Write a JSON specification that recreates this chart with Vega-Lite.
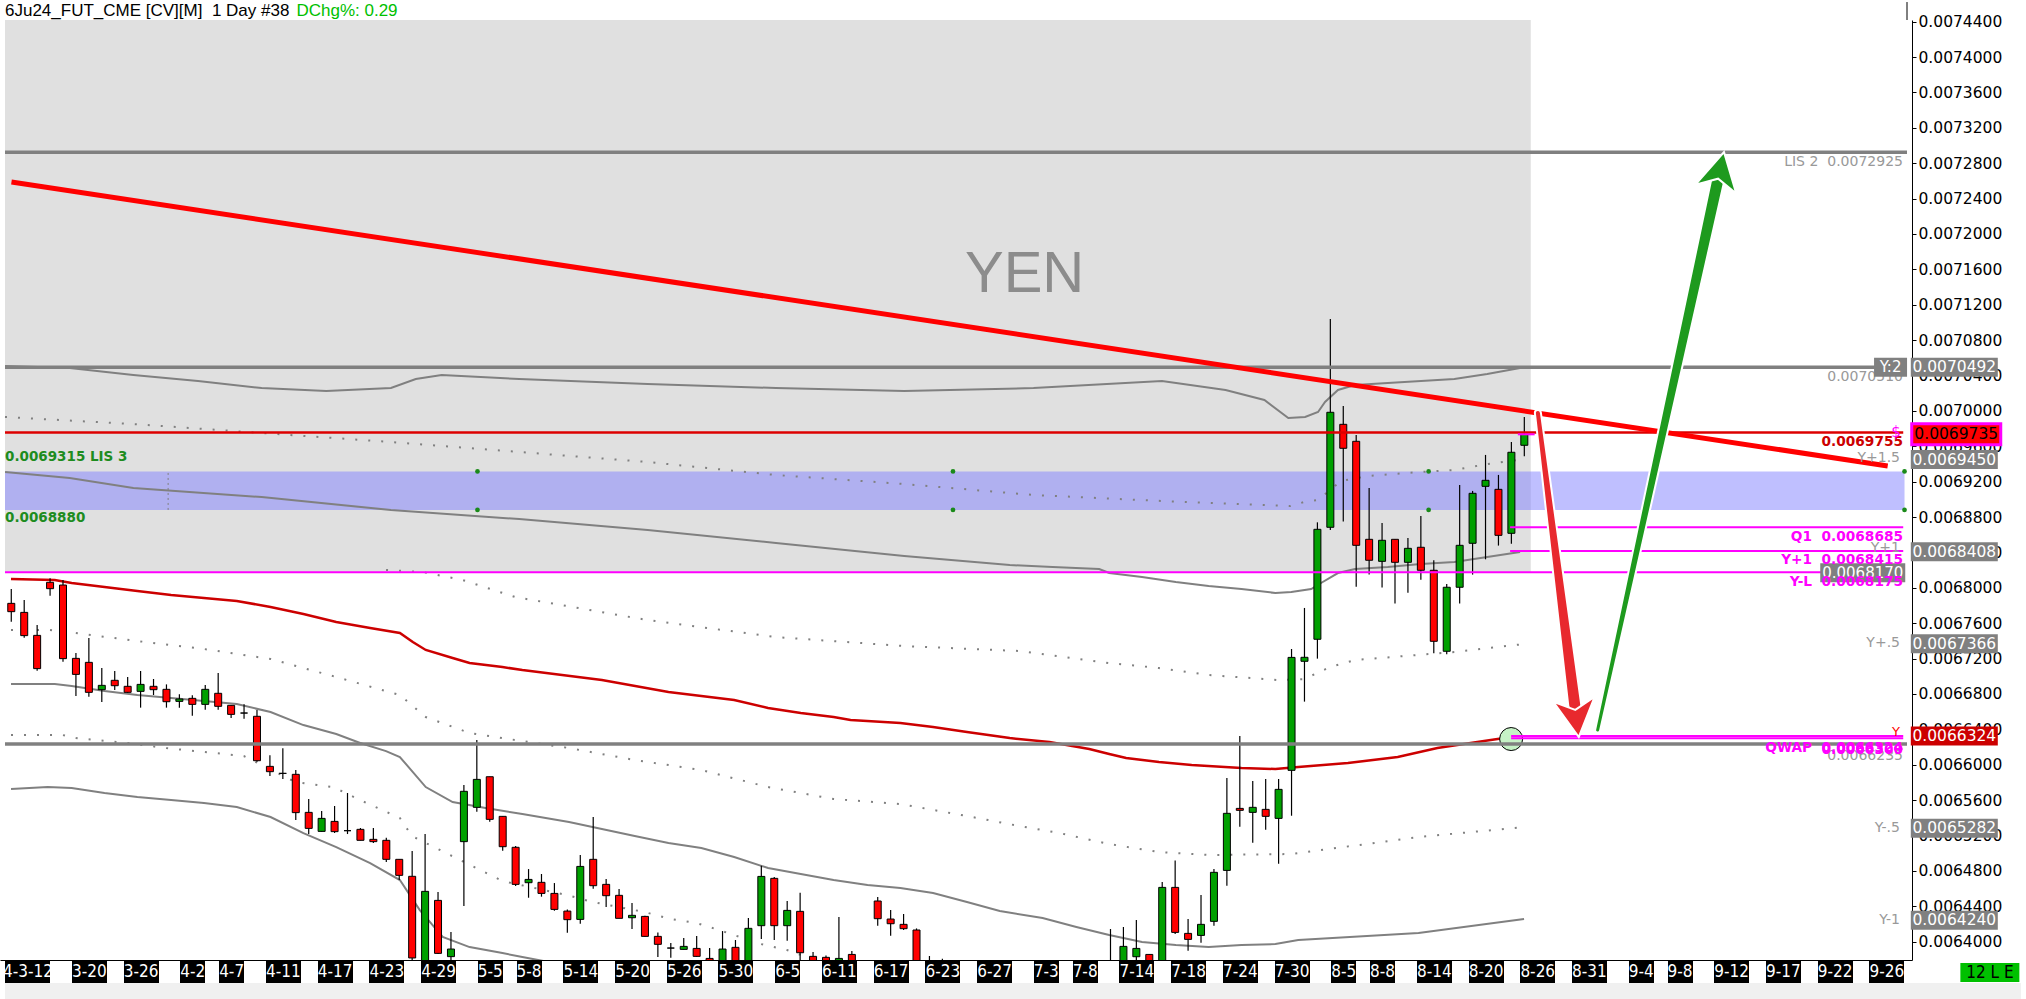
{
"$schema": "https://vega.github.io/schema/vega-lite/v6.json",
"width": 1912,
"height": 940,
"autosize": {"type": "none"},
"padding": {"left": 0, "top": 20, "right": 114, "bottom": 39},
"background": "white",
"config": {"view": {"stroke": null}},
"resolve": {"scale": {"size": "independent"}},
"datasets": {
"candles": [
{"n":1,"o":0.0067824,"h":0.0067986,"l":0.0067617,"c":0.006773},
{"n":2,"o":0.0067722,"h":0.0067862,"l":0.0067436,"c":0.0067459},
{"n":3,"o":0.0067462,"h":0.0067579,"l":0.0067063,"c":0.0067086},
{"n":4,"o":0.0068062,"h":0.0068107,"l":0.0067911,"c":0.006799},
{"n":5,"o":0.0068031,"h":0.0068088,"l":0.0067165,"c":0.0067199},
{"n":6,"o":0.0067202,"h":0.0067263,"l":0.0066777,"c":0.0067021},
{"n":7,"o":0.0067157,"h":0.0067432,"l":0.0066769,"c":0.0066818},
{"n":8,"o":0.0066848,"h":0.0067093,"l":0.0066709,"c":0.0066897},
{"n":9,"o":0.0066954,"h":0.0067059,"l":0.0066844,"c":0.0066893},
{"n":10,"o":0.0066886,"h":0.0066991,"l":0.0066814,"c":0.0066818},
{"n":11,"o":0.0066829,"h":0.0067059,"l":0.0066645,"c":0.0066908},
{"n":12,"o":0.0066886,"h":0.0066969,"l":0.0066788,"c":0.0066848},
{"n":13,"o":0.0066852,"h":0.0066908,"l":0.0066645,"c":0.0066712},
{"n":14,"o":0.0066716,"h":0.0066795,"l":0.0066645,"c":0.0066743},
{"n":15,"o":0.006675,"h":0.0066784,"l":0.0066554,"c":0.0066682},
{"n":16,"o":0.0066682,"h":0.0066901,"l":0.0066622,"c":0.0066852},
{"n":17,"o":0.0066807,"h":0.0067036,"l":0.0066622,"c":0.006666},
{"n":18,"o":0.0066671,"h":0.0066675,"l":0.0066528,"c":0.0066569},
{"n":19,"o":0.0066584,"h":0.0066682,"l":0.006652,"c":0.0066584},
{"n":20,"o":0.0066547,"h":0.0066618,"l":0.0066034,"c":0.0066045},
{"n":21,"o":0.0065981,"h":0.0066106,"l":0.0065872,"c":0.0065921},
{"n":22,"o":0.0065902,"h":0.0066185,"l":0.0065838,"c":0.0065902},
{"n":23,"o":0.0065891,"h":0.006594,"l":0.0065375,"c":0.0065458},
{"n":24,"o":0.0065461,"h":0.0065612,"l":0.0065216,"c":0.006528},
{"n":25,"o":0.0065246,"h":0.0065476,"l":0.0065246,"c":0.0065393},
{"n":26,"o":0.0065359,"h":0.0065533,"l":0.0065228,"c":0.0065243},
{"n":27,"o":0.0065254,"h":0.006568,"l":0.0065216,"c":0.0065254},
{"n":28,"o":0.0065269,"h":0.0065284,"l":0.0065145,"c":0.0065145},
{"n":29,"o":0.0065156,"h":0.0065284,"l":0.0065114,"c":0.006513},
{"n":30,"o":0.0065145,"h":0.0065175,"l":0.00649,"c":0.006493},
{"n":31,"o":0.006493,"h":0.006493,"l":0.0064696,"c":0.0064749},
{"n":32,"o":0.0064738,"h":0.0065024,"l":0.006378,"c":0.0063815},
{"n":33,"o":0.006375,"h":0.0065216,"l":0.00637,"c":0.0064568},
{"n":34,"o":0.0064466,"h":0.0064561,"l":0.006386,"c":0.0063867},
{"n":35,"o":0.006383,"h":0.0064108,"l":0.006378,"c":0.0063916},
{"n":36,"o":0.006513,"h":0.006577,"l":0.0064402,"c":0.0065699},
{"n":37,"o":0.0065518,"h":0.0066279,"l":0.0065469,"c":0.0065834},
{"n":38,"o":0.0065864,"h":0.0065864,"l":0.0065356,"c":0.0065382},
{"n":39,"o":0.0065416,"h":0.0065416,"l":0.0065028,"c":0.0065073},
{"n":40,"o":0.0065066,"h":0.0065081,"l":0.0064628,"c":0.0064647},
{"n":41,"o":0.0064666,"h":0.006482,"l":0.0064496,"c":0.0064703},
{"n":42,"o":0.006467,"h":0.0064764,"l":0.0064508,"c":0.0064545},
{"n":43,"o":0.0064545,"h":0.0064662,"l":0.0064349,"c":0.0064364},
{"n":44,"o":0.0064345,"h":0.0064364,"l":0.0064101,"c":0.0064248},
{"n":45,"o":0.0064251,"h":0.0064979,"l":0.0064202,"c":0.006485},
{"n":46,"o":0.006493,"h":0.0065408,"l":0.0064598,"c":0.0064632},
{"n":47,"o":0.0064647,"h":0.0064707,"l":0.0064391,"c":0.0064519},
{"n":48,"o":0.0064523,"h":0.0064594,"l":0.0064263,"c":0.0064263},
{"n":49,"o":0.006427,"h":0.0064436,"l":0.0064142,"c":0.0064297},
{"n":50,"o":0.0064285,"h":0.0064293,"l":0.0064055,"c":0.0064059},
{"n":51,"o":0.0064059,"h":0.0064104,"l":0.0063825,"c":0.0063969},
{"n":52,"o":0.0063927,"h":0.0063984,"l":0.0063818,"c":0.0063927},
{"n":53,"o":0.0063912,"h":0.006404,"l":0.0063912,"c":0.0063946},
{"n":54,"o":0.0063923,"h":0.0064063,"l":0.0063829,"c":0.0063833},
{"n":55,"o":0.006381,"h":0.0063927,"l":0.006374,"c":0.006377},
{"n":56,"o":0.006376,"h":0.0064119,"l":0.006374,"c":0.0063916},
{"n":57,"o":0.0063935,"h":0.0064018,"l":0.006374,"c":0.006377},
{"n":58,"o":0.006377,"h":0.0064266,"l":0.006374,"c":0.006415},
{"n":59,"o":0.006418,"h":0.0064858,"l":0.0064029,"c":0.0064737},
{"n":60,"o":0.0064715,"h":0.006473,"l":0.0064018,"c":0.006418},
{"n":61,"o":0.006418,"h":0.0064459,"l":0.006401,"c":0.0064353},
{"n":62,"o":0.0064342,"h":0.0064553,"l":0.006375,"c":0.0063874},
{"n":63,"o":0.0063833,"h":0.0063882,"l":0.006374,"c":0.006376},
{"n":64,"o":0.0063822,"h":0.0063844,"l":0.006374,"c":0.006377},
{"n":65,"o":0.006377,"h":0.0064278,"l":0.006374,"c":0.006381},
{"n":66,"o":0.0063855,"h":0.0063893,"l":0.006374,"c":0.006377},
{"n":68,"o":0.0064459,"h":0.0064504,"l":0.006418,"c":0.0064259},
{"n":69,"o":0.0064255,"h":0.0064357,"l":0.0064067,"c":0.0064202},
{"n":70,"o":0.0064195,"h":0.0064312,"l":0.0064131,"c":0.0064146},
{"n":71,"o":0.0064131,"h":0.0064149,"l":0.006374,"c":0.006377},
{"n":72,"o":0.006378,"h":0.0063837,"l":0.00637,"c":0.006375},
{"n":73,"o":0.006378,"h":0.0063807,"l":0.00637,"c":0.006375},
{"n":86,"o":0.006376,"h":0.0064142,"l":0.00637,"c":0.006374},
{"n":87,"o":0.006376,"h":0.0064165,"l":0.00637,"c":0.0063946},
{"n":88,"o":0.0063829,"h":0.0064244,"l":0.006374,"c":0.0063923},
{"n":89,"o":0.0063855,"h":0.0063856,"l":0.006374,"c":0.006377},
{"n":90,"o":0.006376,"h":0.0064673,"l":0.006374,"c":0.0064613},
{"n":91,"o":0.0064613,"h":0.0064918,"l":0.0064086,"c":0.0064104},
{"n":92,"o":0.0064093,"h":0.0064255,"l":0.0063897,"c":0.0064025},
{"n":93,"o":0.006407,"h":0.0064526,"l":0.0063988,"c":0.0064195},
{"n":94,"o":0.0064229,"h":0.006482,"l":0.006418,"c":0.0064783},
{"n":95,"o":0.0064805,"h":0.0065849,"l":0.0064632,"c":0.006545},
{"n":96,"o":0.0065506,"h":0.0066324,"l":0.0065299,"c":0.0065484},
{"n":97,"o":0.0065461,"h":0.0065815,"l":0.0065118,"c":0.0065518},
{"n":98,"o":0.0065495,"h":0.0065838,"l":0.0065265,"c":0.0065416},
{"n":99,"o":0.0065393,"h":0.0065838,"l":0.0064881,"c":0.0065721},
{"n":100,"o":0.0065936,"h":0.0067308,"l":0.0065423,"c":0.0067213},
{"n":101,"o":0.0067169,"h":0.0067772,"l":0.0066713,"c":0.0067214},
{"n":102,"o":0.0067418,"h":0.006874,"l":0.0067199,"c":0.0068661},
{"n":103,"o":0.0068684,"h":0.0071039,"l":0.0068654,"c":0.0069984},
{"n":104,"o":0.0069848,"h":0.0070056,"l":0.0068748,"c":0.0069577},
{"n":105,"o":0.0069656,"h":0.0069728,"l":0.0068013,"c":0.006848},
{"n":106,"o":0.0068548,"h":0.0069129,"l":0.0068149,"c":0.0068311},
{"n":107,"o":0.0068299,"h":0.0068733,"l":0.0068002,"c":0.0068537},
{"n":108,"o":0.0068548,"h":0.0068548,"l":0.0067821,"c":0.0068288},
{"n":109,"o":0.0068288,"h":0.0068563,"l":0.0067945,"c":0.0068446},
{"n":110,"o":0.0068458,"h":0.0068812,"l":0.0068092,"c":0.0068198},
{"n":111,"o":0.0068198,"h":0.0068311,"l":0.0067259,"c":0.0067395},
{"n":112,"o":0.0067282,"h":0.0068043,"l":0.0067248,"c":0.0068006},
{"n":113,"o":0.0068006,"h":0.0069162,"l":0.0067821,"c":0.006848},
{"n":114,"o":0.0068503,"h":0.0069095,"l":0.0068149,"c":0.0069068},
{"n":115,"o":0.0069147,"h":0.0069502,"l":0.0068322,"c":0.0069215},
{"n":116,"o":0.0069113,"h":0.0069276,"l":0.0068477,"c":0.0068593},
{"n":117,"o":0.0068616,"h":0.0069649,"l":0.0068499,"c":0.0069532},
{"n":118,"o":0.0069611,"h":0.0069931,"l":0.0069487,"c":0.0069735}
],
"grayboxes": [
{"n":151.25,"p":0.0070492,"t":"0.0070492"},
{"n":151.25,"p":0.006945,"t":"0.0069450"},
{"n":151.25,"p":0.0068408,"t":"0.0068408"},
{"n":151.25,"p":0.0067366,"t":"0.0067366"},
{"n":151.25,"p":0.0065282,"t":"0.0065282"},
{"n":151.25,"p":0.006424,"t":"0.0064240"}
],
"redbox": [{"n":151.25,"p":0.0066324,"t":"0.0066324"}],
"lastbox": [{"n":151.4,"p":0.0069735,"t":"0.0069735"}],
"y2box": [{"n":146.32,"p":0.0070492,"t":"Y:2"}],
"ylbox": [{"n":144.17,"p":0.006817,"t":"0.0068170"}],
"lebox": [{"n":154.0,"p":0.006365,"t":"12 L E"}]
},
"encoding": {
"x": {"field": "n", "type": "quantitative",
 "scale": {"domain": [0.515, 147.592], "nice": false, "zero": false},
 "axis": {"title": null, "orient": "bottom", "grid": false,
  "values": [2.25,7,11,15,18,22,26,30,34,38,41,45,49,53,57,61,65,69,73,77,81,84,88,92,96,100,104,107,111,115,119,123,127,130,134,138,142,146],
  "labelExpr": "['4-3-12','3-20','3-26','4-2','4-7','4-11','4-17','4-23','4-29','5-5','5-8','5-14','5-20','5-26','5-30','6-5','6-11','6-17','6-23','6-27','7-3','7-8','7-14','7-18','7-24','7-30','8-5','8-8','8-14','8-20','8-26','8-31','9-4','9-8','9-12','9-17','9-22','9-26'][indexof([2.25,7,11,15,18,22,26,30,34,38,41,45,49,53,57,61,65,69,73,77,81,84,88,92,96,100,104,107,111,115,119,123,127,130,134,138,142,146], datum.value)]",
  "domainColor": "black", "domainWidth": 1,
  "tickColor": "black", "tickSize": 23,
  "tickWidth": {"condition": [{"test": "indexof([15,18,38,41,61,81,84,104,107,127,130], datum.value) >= 0", "value": 25}, {"test": "datum.value < 3", "value": 45}], "value": 35},
  "labelColor": "white", "labelFont": "Liberation Sans Narrow, DejaVu Sans Condensed, Liberation Sans", "labelFontSize": 17,
  "labelPadding": -20, "labelOverlap": false, "labelFlush": false, "labelBound": false}},
"y": {"field": "p", "type": "quantitative",
 "scale": {"domain": [0.0063792, 0.0074419], "nice": false, "zero": false},
 "axis": {"title": null, "orient": "right", "grid": false,
  "values": [0.0064,0.00644,0.00648,0.00652,0.00656,0.0066,0.00664,0.00668,0.00672,0.00676,0.0068,0.00684,0.00688,0.00692,0.00696,0.007,0.00704,0.00708,0.00712,0.00716,0.0072,0.00724,0.00728,0.00732,0.00736,0.0074,0.00744],
  "format": ".7f", "domainColor": "black", "tickColor": "black", "tickSize": 4,
  "labelColor": "black", "labelFont": "DejaVu Sans", "labelFontSize": 15.5, "labelPadding": 2,
  "labelOverlap": false, "labelFlush": false}}
},
"layer": [
{"data": {"values": [{"n":0.515,"n2":156.4,"p":0.006335,"p2":0.0063531}]}, "mark": {"type":"rect","color":"#f0f0f0"}, "encoding": {"x2":{"field":"n2"},"y2":{"field":"p2"}}},
{"data": {"values": [{"n":0.515,"n2":118.5,"p":0.0068175,"p2":0.0074419}]}, "mark": {"type":"rect","color":"#e0e0e0"}, "encoding": {"x2":{"field":"n2"},"y2":{"field":"p2"}}},
{"data": {"values": [{"n":0.515,"n2":147.4,"p":0.006888,"p2":0.0069315}]}, "mark": {"type":"rect","color":"#8080ff","opacity":0.5}, "encoding": {"x2":{"field":"n2"},"y2":{"field":"p2"}}},
{"data": {"values": [{"n":79.36,"p":0.0071536,"t":"YEN"}]}, "mark": {"type":"text","font":"Liberation Sans","fontSize":58,"color":"#8c8c8c","align":"center","baseline":"middle"}, "encoding": {"text":{"field":"t"}}},
{"data": {"values": [{"n":13.13,"p":0.006888,"p2":0.0069315}]}, "mark": {"type":"rule","color":"#808080","strokeDash":[2,3],"strokeWidth":1}, "encoding": {"y2":{"field":"p2"}}},
{"data": {"values": [
{"s":"L1","n":0.52,"p":0.0070507},{"s":"L1","n":5.52,"p":0.0070485},{"s":"L1","n":10.44,"p":0.0070405},{"s":"L1","n":15.44,"p":0.0070338},{"s":"L1","n":20.36,"p":0.0070258},{"s":"L1","n":25.36,"p":0.0070224},{"s":"L1","n":30.36,"p":0.0070258},{"s":"L1","n":32.28,"p":0.007036},{"s":"L1","n":34.28,"p":0.0070405},{"s":"L1","n":40.28,"p":0.007036},{"s":"L1","n":50.21,"p":0.0070304},{"s":"L1","n":60.13,"p":0.0070258},{"s":"L1","n":70.05,"p":0.0070224},{"s":"L1","n":80.05,"p":0.0070258},{"s":"L1","n":89.98,"p":0.0070338},{"s":"L1","n":94.9,"p":0.0070236},{"s":"L1","n":97.9,"p":0.0070123},{"s":"L1","n":99.75,"p":0.0069919},{"s":"L1","n":101.05,"p":0.0069931},{"s":"L1","n":102.05,"p":0.0069987},{"s":"L1","n":102.59,"p":0.00701},{"s":"L1","n":103.59,"p":0.0070236},{"s":"L1","n":104.9,"p":0.0070292},{"s":"L1","n":107.44,"p":0.0070315},{"s":"L1","n":112.59,"p":0.007036},{"s":"L1","n":115.13,"p":0.0070417},{"s":"L1","n":117.67,"p":0.0070485},
{"s":"L2","n":0.52,"p":0.0069309},{"s":"L2","n":5.52,"p":0.0069241},{"s":"L2","n":10.44,"p":0.0069128},{"s":"L2","n":20.36,"p":0.0069026},{"s":"L2","n":30.36,"p":0.0068879},{"s":"L2","n":40.28,"p":0.0068777},{"s":"L2","n":50.21,"p":0.0068653},{"s":"L2","n":60.13,"p":0.0068506},{"s":"L2","n":70.05,"p":0.0068359},{"s":"L2","n":78.21,"p":0.0068257},{"s":"L2","n":81.52,"p":0.0068235},{"s":"L2","n":85.13,"p":0.0068212},{"s":"L2","n":85.9,"p":0.0068167},{"s":"L2","n":88.44,"p":0.0068122},{"s":"L2","n":91.05,"p":0.0068065},{"s":"L2","n":93.59,"p":0.006802},{"s":"L2","n":96.13,"p":0.0067986},{"s":"L2","n":98.75,"p":0.0067941},{"s":"L2","n":99.98,"p":0.0067952},{"s":"L2","n":101.52,"p":0.0067986},{"s":"L2","n":102.28,"p":0.0068054},{"s":"L2","n":103.59,"p":0.0068167},{"s":"L2","n":104.9,"p":0.0068212},{"s":"L2","n":107.44,"p":0.0068235},{"s":"L2","n":109.98,"p":0.0068269},{"s":"L2","n":112.59,"p":0.0068291},{"s":"L2","n":115.13,"p":0.0068348},{"s":"L2","n":117.67,"p":0.0068404},
{"s":"L3","n":0.98,"p":0.0066912},{"s":"L3","n":4.36,"p":0.0066912},{"s":"L3","n":5.67,"p":0.0066889},{"s":"L3","n":8.21,"p":0.0066833},{"s":"L3","n":10.75,"p":0.0066788},{"s":"L3","n":13.36,"p":0.0066754},{"s":"L3","n":15.9,"p":0.006672},{"s":"L3","n":18.44,"p":0.0066686},{"s":"L3","n":21.05,"p":0.0066595},{"s":"L3","n":23.59,"p":0.0066448},{"s":"L3","n":26.13,"p":0.0066347},{"s":"L3","n":27.98,"p":0.0066245},{"s":"L3","n":29.98,"p":0.0066154},{"s":"L3","n":31.05,"p":0.0066087},{"s":"L3","n":33.05,"p":0.0065747},{"s":"L3","n":35.13,"p":0.0065578},{"s":"L3","n":37.67,"p":0.006551},{"s":"L3","n":40.52,"p":0.0065442},{"s":"L3","n":44.13,"p":0.0065352},{"s":"L3","n":49.21,"p":0.0065193},{"s":"L3","n":51.82,"p":0.0065114},{"s":"L3","n":54.36,"p":0.0065058},{"s":"L3","n":56.9,"p":0.0064956},{"s":"L3","n":59.52,"p":0.0064832},{"s":"L3","n":62.05,"p":0.0064764},{"s":"L3","n":64.59,"p":0.0064696},{"s":"L3","n":67.21,"p":0.0064639},{"s":"L3","n":69.75,"p":0.0064605},{"s":"L3","n":72.28,"p":0.0064549},{"s":"L3","n":74.9,"p":0.0064447},{"s":"L3","n":77.44,"p":0.0064345},{"s":"L3","n":80.75,"p":0.0064266},{"s":"L3","n":83.36,"p":0.0064165},{"s":"L3","n":85.9,"p":0.0064074},{"s":"L3","n":88.44,"p":0.0063995},{"s":"L3","n":91.05,"p":0.0063961},{"s":"L3","n":93.59,"p":0.0063938},{"s":"L3","n":96.13,"p":0.0063961},{"s":"L3","n":98.75,"p":0.0063972},{"s":"L3","n":100.52,"p":0.0064018},{"s":"L3","n":109.82,"p":0.0064097},{"s":"L3","n":117.98,"p":0.0064255},
{"s":"L4","n":0.98,"p":0.0065725},{"s":"L4","n":3.82,"p":0.0065747},{"s":"L4","n":5.67,"p":0.0065736},{"s":"L4","n":8.21,"p":0.006568},{"s":"L4","n":10.75,"p":0.0065634},{"s":"L4","n":13.36,"p":0.00656},{"s":"L4","n":15.9,"p":0.0065566},{"s":"L4","n":18.44,"p":0.0065521},{"s":"L4","n":21.05,"p":0.0065408},{"s":"L4","n":23.59,"p":0.0065227},{"s":"L4","n":26.13,"p":0.0065069},{"s":"L4","n":28.75,"p":0.0064888},{"s":"L4","n":31.05,"p":0.0064696},{"s":"L4","n":32.59,"p":0.0064357},{"s":"L4","n":34.36,"p":0.0064052},{"s":"L4","n":36.44,"p":0.0063938},{"s":"L4","n":38.98,"p":0.0063871},{"s":"L4","n":40.52,"p":0.0063825},{"s":"L4","n":42.59,"p":0.0063769},{"s":"L4","n":45,"p":0.00637}
]}, "mark": {"type":"line","color":"#808080","strokeWidth":2,"clip":true}, "encoding": {"detail":{"field":"s"}}},
{"data": {"values": [
{"n":0.98,"p":0.0068099},{"n":4.36,"p":0.0068088},{"n":5.67,"p":0.0068054},{"n":8.21,"p":0.0068009},{"n":10.75,"p":0.0067964},{"n":13.36,"p":0.0067919},{"n":15.9,"p":0.0067885},{"n":18.44,"p":0.0067851},{"n":21.05,"p":0.0067783},{"n":23.59,"p":0.0067704},{"n":26.13,"p":0.0067613},{"n":28.75,"p":0.0067546},{"n":31.05,"p":0.0067489},{"n":32.05,"p":0.0067387},{"n":33.05,"p":0.0067297},{"n":35.13,"p":0.0067206},{"n":36.44,"p":0.006715},{"n":38.98,"p":0.0067104},{"n":40.52,"p":0.006707},{"n":46.67,"p":0.0066957},{"n":51.82,"p":0.0066822},{"n":56.9,"p":0.0066731},{"n":59.52,"p":0.0066641},{"n":62.05,"p":0.0066584},{"n":64.59,"p":0.0066539},{"n":65.9,"p":0.0066505},{"n":69.75,"p":0.0066471},{"n":72.28,"p":0.0066426},{"n":74.9,"p":0.0066369},{"n":78.21,"p":0.0066301},{"n":81.28,"p":0.0066256},{"n":84.36,"p":0.0066177},{"n":85.9,"p":0.006612},{"n":87.21,"p":0.0066075},{"n":89.75,"p":0.006603},{"n":92.28,"p":0.0065996},{"n":96.13,"p":0.0065962},{"n":98.75,"p":0.0065951},{"n":100.52,"p":0.0065974},{"n":104.36,"p":0.0066019},{"n":108.21,"p":0.0066087},{"n":111.28,"p":0.0066188},{"n":114.36,"p":0.0066256},{"n":116.98,"p":0.0066313}
]}, "mark": {"type":"line","color":"#cc0000","strokeWidth":2.5,"clip":true}, "encoding": {}},
{"data": {"values": [
{"s":"D1","n":0.515,"p":0.0069931},{"s":"D1","n":10.44,"p":0.0069851},{"s":"D1","n":20.36,"p":0.006975},{"s":"D1","n":30.36,"p":0.0069648},{"s":"D1","n":40.28,"p":0.0069535},{"s":"D1","n":50.21,"p":0.0069422},{"s":"D1","n":60.13,"p":0.0069275},{"s":"D1","n":70.05,"p":0.0069173},{"s":"D1","n":80.05,"p":0.0069049},{"s":"D1","n":89.98,"p":0.0068981},{"s":"D1","n":99.9,"p":0.0068924},{"s":"D1","n":100.98,"p":0.006897},{"s":"D1","n":102.05,"p":0.0068992},{"s":"D1","n":103.82,"p":0.0069207},{"s":"D1","n":105.9,"p":0.0069263},{"s":"D1","n":109.98,"p":0.0069309},{"s":"D1","n":112.59,"p":0.0069331},{"s":"D1","n":115.13,"p":0.0069399},{"s":"D1","n":117.98,"p":0.0069456},
{"s":"Da","n":29.98,"p":0.0068201},{"s":"Da","n":32.82,"p":0.0068178},{"s":"Da","n":35.9,"p":0.0068088},{"s":"Da","n":39.98,"p":0.0067895},{"s":"Da","n":50.21,"p":0.0067635},{"s":"Da","n":60.13,"p":0.0067443},{"s":"Da","n":70.05,"p":0.0067341},{"s":"Da","n":78.98,"p":0.0067285},{"s":"Da","n":85.9,"p":0.0067149},{"s":"Da","n":89.75,"p":0.0067093},{"s":"Da","n":93.59,"p":0.0067014},{"s":"Da","n":98.98,"p":0.0066957},{"s":"Da","n":100.98,"p":0.0066968},{"s":"Da","n":102.98,"p":0.0067104},{"s":"Da","n":104.9,"p":0.0067183},{"s":"Da","n":112.59,"p":0.0067274},{"s":"Da","n":117.98,"p":0.0067364},
{"s":"Db","n":0.98,"p":0.0067522},{"s":"Db","n":3.98,"p":0.0067522},{"s":"Db","n":5.98,"p":0.0067488},{"s":"Db","n":10.75,"p":0.0067398},{"s":"Db","n":15.9,"p":0.0067308},{"s":"Db","n":21.05,"p":0.0067195},{"s":"Db","n":26.13,"p":0.0066991},{"s":"Db","n":31.05,"p":0.0066788},{"s":"Db","n":33.05,"p":0.0066539},{"s":"Db","n":36.44,"p":0.0066358},{"s":"Db","n":39.98,"p":0.0066279},{"s":"Db","n":44.13,"p":0.0066188},{"s":"Db","n":49.21,"p":0.0066053},{"s":"Db","n":54.36,"p":0.006594},{"s":"Db","n":59.52,"p":0.0065747},{"s":"Db","n":64.59,"p":0.0065612},{"s":"Db","n":69.75,"p":0.0065555},{"s":"Db","n":74.9,"p":0.006542},{"s":"Db","n":78.98,"p":0.0065306},{"s":"Db","n":82.05,"p":0.0065227},{"s":"Db","n":85.9,"p":0.0065103},{"s":"Db","n":89.75,"p":0.0065012},{"s":"Db","n":93.59,"p":0.0064979},{"s":"Db","n":99.98,"p":0.006499},{"s":"Db","n":109.82,"p":0.0065182},{"s":"Db","n":117.98,"p":0.0065295},
{"s":"Dc","n":0.98,"p":0.0066335},{"s":"Dc","n":4.98,"p":0.0066335},{"s":"Dc","n":5.98,"p":0.0066301},{"s":"Dc","n":9.98,"p":0.0066245},{"s":"Dc","n":12.98,"p":0.0066188},{"s":"Dc","n":18.98,"p":0.0066098},{"s":"Dc","n":22.98,"p":0.0065804},{"s":"Dc","n":25.9,"p":0.0065747},{"s":"Dc","n":27.98,"p":0.00656},{"s":"Dc","n":31.05,"p":0.0065397},{"s":"Dc","n":31.98,"p":0.0065193},{"s":"Dc","n":38.98,"p":0.0064685},{"s":"Dc","n":43.98,"p":0.0064526},{"s":"Dc","n":45.98,"p":0.0064447},{"s":"Dc","n":49.98,"p":0.0064334},{"s":"Dc","n":51.98,"p":0.0064255},{"s":"Dc","n":53.98,"p":0.006421},{"s":"Dc","n":55.98,"p":0.0064119},{"s":"Dc","n":58.98,"p":0.0063972},{"s":"Dc","n":60.98,"p":0.0063905},{"s":"Dc","n":63.6,"p":0.0063769}
]}, "mark": {"type":"line","color":"#808080","strokeWidth":2,"strokeDash":[2,11],"clip":true}, "encoding": {"detail":{"field":"s"}}},
{"data": {"name":"candles"}, "mark": {"type":"rule","color":"black","strokeWidth":1.2,"clip":true}, "encoding": {"y":{"field":"l","type":"quantitative"},"y2":{"field":"h"}}},
{"data": {"name":"candles"}, "mark": {"type":"bar","width":7,"stroke":"black","strokeWidth":1,"clip":true}, "encoding": {"y":{"field":"o","type":"quantitative"},"y2":{"field":"c"},"fill":{"condition":[{"test":"datum.c > datum.o","value":"#00a000"},{"test":"datum.c == datum.o","value":"black"}],"value":"#ff0000"}}},
{"data": {"values": [{"n":116.98,"p":0.006629}]}, "mark": {"type":"point","shape":"circle","size":530,"filled":true,"fill":"#c6f2c6","stroke":"black","strokeWidth":1,"opacity":1}, "encoding": {}},
{"data": {"values": [{"n":0.515,"n2":147.592,"p":0.0072925},{"n":0.515,"n2":147.592,"p":0.0070492},{"n":0.515,"n2":147.592,"p":0.0066235}]}, "mark": {"type":"rule","color":"#808080","strokeWidth":3.5}, "encoding": {"x2":{"field":"n2"}}},
{"data": {"values": [{"n":0.515,"n2":147.3,"p":0.0069755}]}, "mark": {"type":"rule","color":"#dd0000","strokeWidth":2.5}, "encoding": {"x2":{"field":"n2"}}},
{"data": {"values": [{"n":0.515,"n2":147.3,"p":0.0068175},{"n":116.9,"n2":147.3,"p":0.0068685},{"n":116.9,"n2":147.3,"p":0.0068415},{"n":116.98,"n2":147.3,"p":0.0066324},{"n":116.98,"n2":147.3,"p":0.00663},{"n":117.5,"n2":118.8,"p":0.0069735}]}, "mark": {"type":"rule","color":"#ff00ff","strokeWidth":2}, "encoding": {"x2":{"field":"n2"}}},
{"data": {"values": [{"n":37.05,"p":0.0069315},{"n":37.05,"p":0.006888},{"n":73.82,"p":0.0069315},{"n":73.82,"p":0.006888},{"n":110.6,"p":0.0069315},{"n":110.6,"p":0.006888},{"n":147.4,"p":0.0069315},{"n":147.4,"p":0.006888}]}, "mark": {"type":"point","shape":"circle","filled":true,"color":"#1a8a1a","size":22,"opacity":1}, "encoding": {}},
{"data": {"values": [{"n":1.015,"p":0.0072588},{"n":146.1,"p":0.0069377}]}, "mark": {"type":"line","color":"#ff0000","strokeWidth":5}, "encoding": {}},
{"data": {"values": [{"n":119.05,"p":0.0069976,"f":0},{"n":121.9,"p":0.0066674,"f":1}]}, "mark": {"type":"trail","color":"white"}, "encoding": {"size":{"field":"f","type":"quantitative","scale":{"domain":[0,1],"range":[8,15],"zero":false},"legend":null}}},
{"data": {"values": [{"n":123.67,"p":0.0066392,"f":0},{"n":132.93,"p":0.0072587,"f":1}]}, "mark": {"type":"trail","color":"white"}, "encoding": {"size":{"field":"f","type":"quantitative","scale":{"domain":[0,1],"range":[7,15],"zero":false},"legend":null}}},
{"data": {"values": [{"n":119.05,"p":0.0069976,"f":0},{"n":121.9,"p":0.0066674,"f":1}]}, "mark": {"type":"trail","color":"#e8292e"}, "encoding": {"size":{"field":"f","type":"quantitative","scale":{"domain":[0,1],"range":[4,11],"zero":false},"legend":null}}},
{"data": {"values": [{"n":123.67,"p":0.0066392,"f":0},{"n":132.93,"p":0.0072587,"f":1}]}, "mark": {"type":"trail","color":"#1e9a1e"}, "encoding": {"size":{"field":"f","type":"quantitative","scale":{"domain":[0,1],"range":[3,11],"zero":false},"legend":null}}},
{"data": {"values": [{"n":122.21,"p":0.0066313}]}, "mark": {"type":"point","shape":"M0,0L0.55,-1L0,-0.72L-0.55,-1Z","size":5776,"angle":-7.2,"filled":true,"fill":"#e8292e","stroke":"white","strokeWidth":2,"opacity":1}, "encoding": {}},
{"data": {"values": [{"n":133.44,"p":0.0072927}]}, "mark": {"type":"point","shape":"M0,0L0.55,1L0,0.72L-0.55,1Z","size":5776,"angle":12.4,"filled":true,"fill":"#1e9a1e","stroke":"white","strokeWidth":2,"opacity":1}, "encoding": {}},
{"data": {"values": [
{"n":147.28,"p":0.0072814,"t":"LIS 2\u00a0 0.0072925"},
{"n":147.28,"p":0.0070383,"t":"0.0070510"},
{"n":147.05,"p":0.0069467,"t":"Y+1.5"},
{"n":147.05,"p":0.0068449,"t":"Y+1"},
{"n":147.05,"p":0.0067375,"t":"Y+.5"},
{"n":147.05,"p":0.0065284,"t":"Y-.5"},
{"n":147.05,"p":0.0064244,"t":"Y-1"},
{"n":147.28,"p":0.0066098,"t":"0.0066235"}
]}, "mark": {"type":"text","font":"DejaVu Sans","fontSize":14,"color":"#999999","align":"right","baseline":"middle"}, "encoding": {"text":{"field":"t"}}},
{"data": {"name":"y2box"}, "mark": {"type":"tick","orient":"horizontal","size":33,"thickness":19,"color":"#808080","opacity":1}, "encoding": {}},
{"data": {"name":"y2box"}, "mark": {"type":"text","font":"DejaVu Sans","fontSize":15,"color":"white","align":"center","baseline":"middle"}, "encoding": {"text":{"field":"t"}}},
{"data": {"name":"ylbox"}, "mark": {"type":"tick","orient":"horizontal","size":85,"thickness":19,"color":"#808080","opacity":1}, "encoding": {}},
{"data": {"name":"ylbox"}, "mark": {"type":"text","font":"DejaVu Sans","fontSize":15,"color":"white","align":"center","baseline":"middle"}, "encoding": {"text":{"field":"t"}}},
{"data": {"values": [{"n":147.28,"p":0.0069648,"t":"0.0069755"}]}, "mark": {"type":"text","font":"DejaVu Sans","fontWeight":"bold","fontSize":13.7,"color":"#cc0000","align":"right","baseline":"middle"}, "encoding": {"text":{"field":"t"}}},
{"data": {"values": [
{"n":147.28,"p":0.0068574,"t":"Q1\u00a0 0.0068685"},
{"n":147.28,"p":0.0068314,"t":"Y+1\u00a0 0.0068415"},
{"n":147.28,"p":0.0068065,"t":"Y-L\u00a0 0.0068175"},
{"n":147.28,"p":0.006619,"t":"QWAP\u00a0 0.0066324"},
{"n":147.28,"p":0.006617,"t":"0.0066300"}
]}, "mark": {"type":"text","font":"DejaVu Sans","fontWeight":"bold","fontSize":13.7,"color":"#ff00ff","align":"right","baseline":"middle"}, "encoding": {"text":{"field":"t"}}},
{"data": {"values": [{"n":146.75,"p":0.0069761,"t":"$"}]}, "mark": {"type":"text","font":"DejaVu Sans","fontSize":15,"color":"#ff00ff","align":"center","baseline":"middle"}, "encoding": {"text":{"field":"t"}}},
{"data": {"values": [{"n":147.05,"p":0.0066369,"t":"Y"}]}, "mark": {"type":"text","font":"DejaVu Sans","fontSize":13,"color":"#ff0000","align":"right","baseline":"middle"}, "encoding": {"text":{"field":"t"}}},
{"data": {"values": [{"n":0.515,"p":0.0069478,"t":"0.0069315 LIS 3"},{"n":0.515,"p":0.0068789,"t":"0.0068880"}]}, "mark": {"type":"text","font":"DejaVu Sans","fontWeight":"bold","fontSize":13.5,"color":"#1e8c1e","align":"left","baseline":"middle"}, "encoding": {"text":{"field":"t"}}},
{"data": {"name":"grayboxes"}, "mark": {"type":"tick","orient":"horizontal","size":87,"thickness":19,"color":"#808080","opacity":1}, "encoding": {}},
{"data": {"name":"grayboxes"}, "mark": {"type":"text","font":"DejaVu Sans","fontSize":15.5,"color":"white","align":"center","baseline":"middle"}, "encoding": {"text":{"field":"t"}}},
{"data": {"name":"redbox"}, "mark": {"type":"tick","orient":"horizontal","size":87,"thickness":19,"color":"#cc0000","opacity":1}, "encoding": {}},
{"data": {"name":"redbox"}, "mark": {"type":"text","font":"DejaVu Sans","fontSize":15.5,"color":"white","align":"center","baseline":"middle"}, "encoding": {"text":{"field":"t"}}},
{"data": {"name":"lastbox"}, "mark": {"type":"tick","orient":"horizontal","size":89,"thickness":21,"color":"#ff0000","stroke":"#ff00ff","strokeWidth":3,"opacity":1}, "encoding": {}},
{"data": {"name":"lastbox"}, "mark": {"type":"text","font":"DejaVu Sans","fontSize":15.5,"color":"black","align":"center","baseline":"middle"}, "encoding": {"text":{"field":"t"}}},
{"data": {"values": [{"n":147.592,"p":0.0074419,"p2":0.0074622}]}, "mark": {"type":"rule","color":"black","strokeWidth":1}, "encoding": {"y2":{"field":"p2"}}},
{"data": {"values": [{"n":0.515,"p":0.0074521,"t":"6Ju24_FUT_CME [CV][M]\u00a0 1 Day #38"}]}, "mark": {"type":"text","font":"Liberation Sans","fontSize":17,"color":"black","align":"left","baseline":"middle"}, "encoding": {"text":{"field":"t"}}},
{"data": {"values": [{"n":23.05,"p":0.0074521,"t":"DChg%: 0.29"}]}, "mark": {"type":"text","font":"Liberation Sans","fontSize":17,"color":"#00c000","align":"left","baseline":"middle"}, "encoding": {"text":{"field":"t"}}},
{"data": {"name":"lebox"}, "mark": {"type":"tick","orient":"horizontal","size":59,"thickness":19,"color":"#00c000","opacity":1}, "encoding": {}},
{"data": {"name":"lebox"}, "mark": {"type":"text","font":"Liberation Sans Narrow, DejaVu Sans Condensed, Liberation Sans","fontSize":17,"color":"black","align":"center","baseline":"middle"}, "encoding": {"text":{"field":"t"}}}
]
}
